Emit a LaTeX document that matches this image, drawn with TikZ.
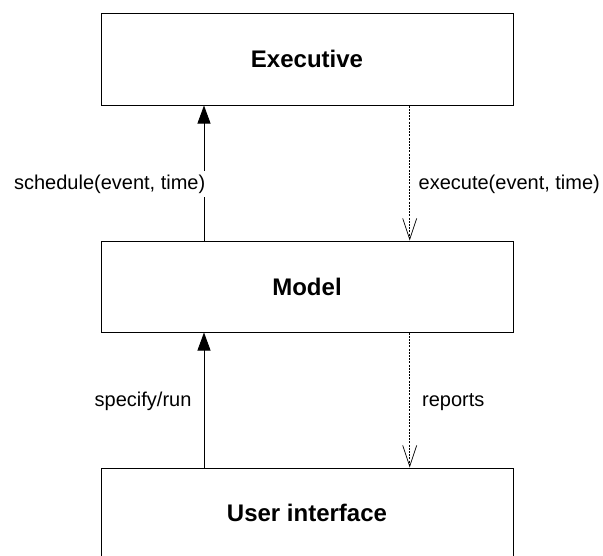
\documentclass[tikz,border=0pt]{standalone}
\usepackage{fontspec}
\setmainfont{Liberation Sans}
\usetikzlibrary{arrows.meta}
\begin{document}
\begin{tikzpicture}[x=1pt,y=-1pt,
  box/.style={draw, line width=1pt, minimum width=412pt, inner sep=0pt,
    font=\fontsize{24}{28}\selectfont\bfseries},
  lbl/.style={font=\fontsize{20}{24}\selectfont, inner sep=0pt},
  call/.style={line width=0.8pt, -{Triangle[width=13pt,length=18pt]}},
  ret/.style={line width=0.7pt, dash pattern=on 2pt off 1.2pt,
    -{Straight Barb[width=14pt,length=21pt]}}]
\useasboundingbox (0,0) rectangle (603,555);
\node[box, minimum height=92pt] (exec) at (307,59) {Executive};
\node[box, minimum height=91pt] (model) at (307,286.5) {Model};
\node[box, minimum height=89pt] (ui) at (307,512.5) {User interface};
\coordinate (up) at (204,0);
\coordinate (down) at (409.7,0);
\draw[call] (up |- model.north) -- (up |- exec.south);
\draw[ret] (down |- exec.south) -- (down |- model.north);
\draw[call] (up |- ui.north) -- (up |- model.south);
\draw[ret] (down |- model.south) -- (down |- ui.north);
\node[lbl, fill=white, inner xsep=1pt, inner ysep=3.5pt, anchor=base east] (l1) at (206.5,189) {schedule(event, time)};
\node[lbl, anchor=base west] (l2) at (418.5,189) {execute(event, time)};
\node[lbl, anchor=base west] (l3) at (94.5,406) {specify/run};
\node[lbl, anchor=base west] (l4) at (422,406) {reports};
\end{tikzpicture}
\end{document}
